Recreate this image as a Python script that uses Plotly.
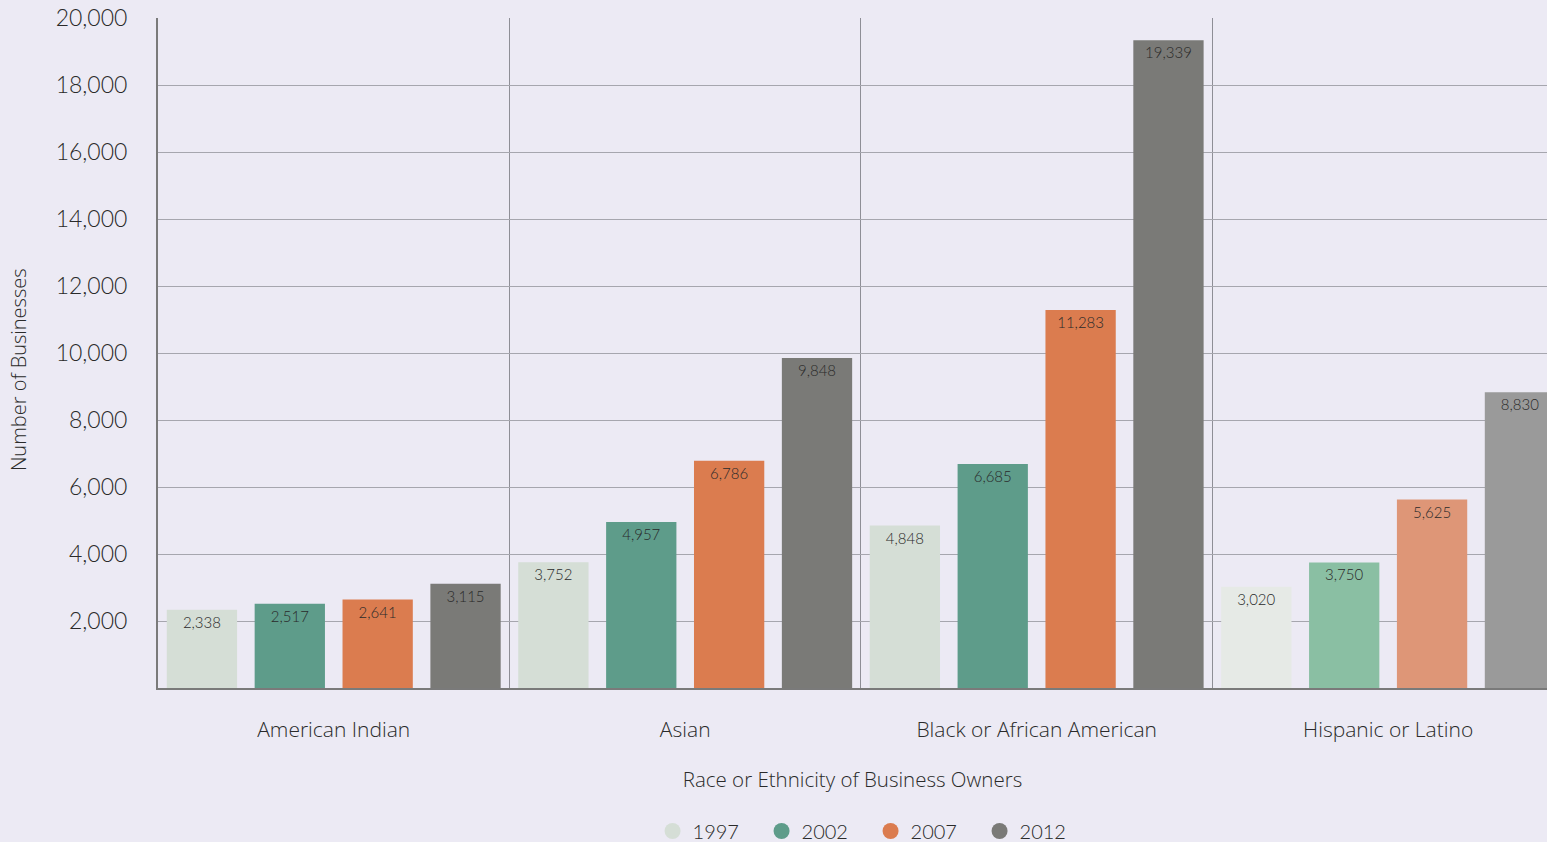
import plotly.graph_objects as go

# Number of minority-owned businesses by owner race/ethnicity and survey year
categories = ["American Indian", "Asian", "Black or African American", "Hispanic or Latino"]
years = ["1997", "2002", "2007", "2012"]
values = {
    "1997": [2338, 3752, 4848, 3020],
    "2002": [2517, 4957, 6685, 3750],
    "2007": [2641, 6786, 11283, 5625],
    "2012": [3115, 9848, 19339, 8830],
}
y_ticks = [2000, 4000, 6000, 8000, 10000, 12000, 14000, 16000, 18000, 20000]

# base colour per year, and a paler shade used for the last group
base_colors = {"1997": "#D5DED6", "2002": "#5E9C8A", "2007": "#DB7C4F", "2012": "#7A7A77"}
pale_colors = {"1997": "#E6EAE6", "2002": "#8ABFA3", "2007": "#DE9677", "2012": "#9A9A9A"}

BG = "#ECEAF4"
FONT = "Lato"
WIDE = "Open Sans"
TEXT = "#2A2A2A"

fig = go.Figure()
for yr in years:
    colors = [pale_colors[yr] if c == "Hispanic or Latino" else base_colors[yr] for c in categories]
    fig.add_trace(go.Bar(
        x=categories,
        y=values[yr],
        name=yr,
        marker=dict(color=colors, line=dict(width=0)),
        text=[f"{v:,}" for v in values[yr]],
        textposition="inside",
        insidetextanchor="end",
        textangle=0,
        constraintext="none",
        textfont=dict(family=FONT, size=15, color=TEXT, weight=300),
        showlegend=False,
    ))
    # round legend swatch
    fig.add_trace(go.Scatter(
        x=[None], y=[None], mode="markers", name=yr,
        marker=dict(symbol="circle", size=18, color=base_colors[yr]),
    ))

fig.update_layout(
    width=1547,
    height=842,
    margin=dict(l=158, r=0, t=18, b=154, autoexpand=False),
    paper_bgcolor=BG,
    plot_bgcolor=BG,
    barmode="group",
    bargap=0,
    bargroupgap=0.2,
    font=dict(family=FONT, color=TEXT),
    legend=dict(
        orientation="h", x=0.513, xanchor="center", y=-0.2134, yanchor="middle",
        font=dict(family=FONT, size=20, color=TEXT, weight=300),
        itemsizing="trace", traceorder="normal",
        entrywidth=64,
        bgcolor="rgba(0,0,0,0)",
    ),
    xaxis=dict(
        range=[-0.5, 3.452],
        tickson="boundaries",
        showgrid=True,
        gridcolor="#8E8E96",
        gridwidth=1,
        showline=True,
        linecolor="#7A7A7A",
        linewidth=2,
        ticks="",
        ticklabelstandoff=22,
        tickfont=dict(family=WIDE, size=21, color=TEXT, weight=300),
        title=dict(text="Race or Ethnicity of Business Owners",
                   font=dict(family=WIDE, size=20.5, color=TEXT, weight=300), standoff=30),
        fixedrange=True,
    ),
    yaxis=dict(
        range=[0, 20000],
        tickvals=y_ticks,
        tickformat=",",
        showgrid=True,
        gridcolor="#A6A6AE",
        gridwidth=1,
        zeroline=False,
        showline=True,
        linecolor="#7A7A7A",
        linewidth=2,
        ticks="",
        ticklabelstandoff=24,
        tickfont=dict(family=FONT, size=23, color=TEXT, weight=300),
        fixedrange=True,
    ),
    annotations=[dict(
        text="Number of Businesses",
        xref="paper", yref="paper", x=-0.1008, y=0.476,
        xanchor="center", yanchor="middle", textangle=-90, showarrow=False,
        font=dict(family=WIDE, size=20, color=TEXT, weight=300),
    )],
)

fig.write_html("out.html")
